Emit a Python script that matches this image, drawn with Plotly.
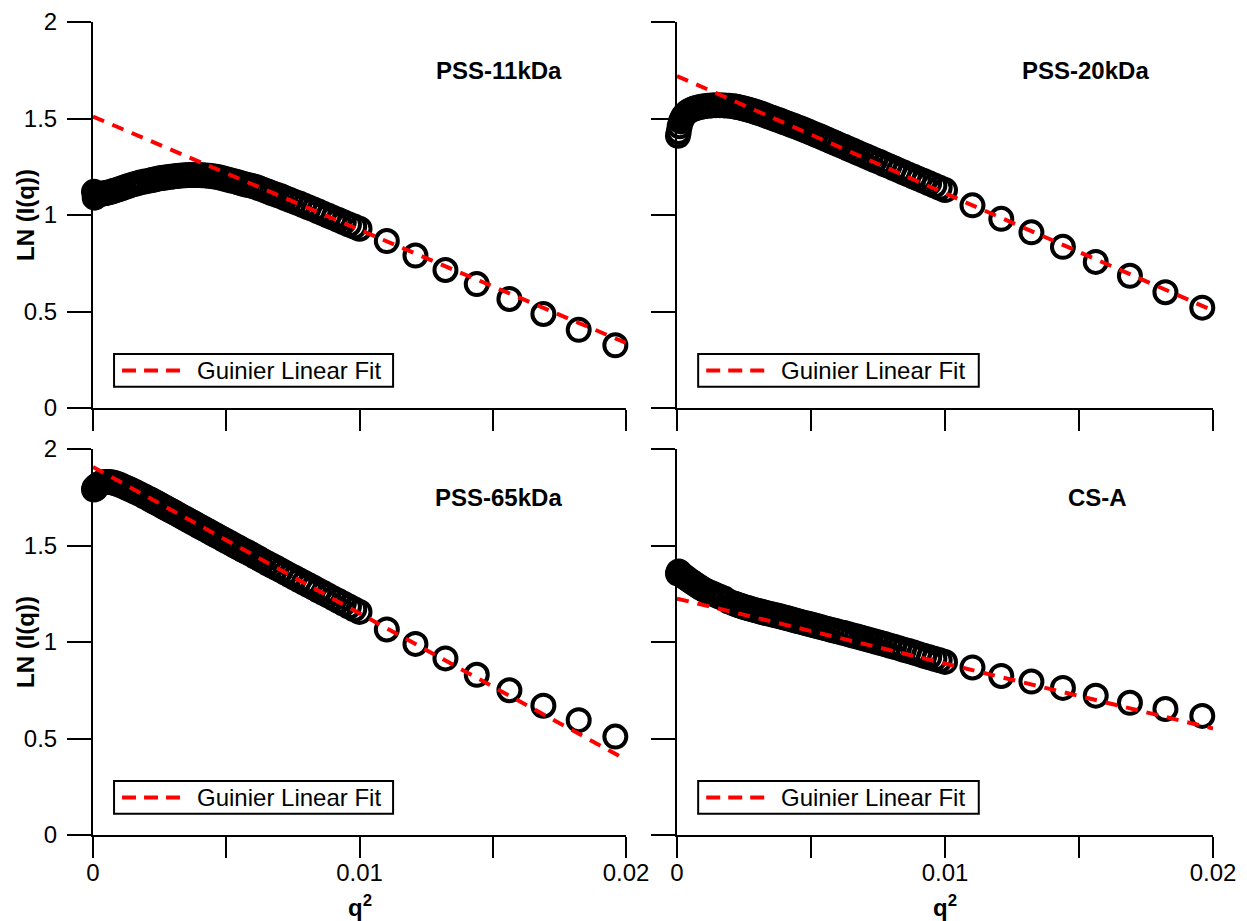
import plotly.graph_objects as go

# ---------------- data ----------------
q2 = [0.000036, 0.000064, 0.000100, 0.000144, 0.000196, 0.000256, 0.000324, 0.000400, 0.000484, 0.000576,
      0.000676, 0.000784, 0.000900, 0.001024, 0.001156, 0.001296, 0.001444, 0.001600, 0.001764, 0.001936,
      0.002116, 0.002209, 0.002304, 0.002401, 0.002500, 0.002601, 0.002704, 0.002809, 0.002916, 0.003025,
      0.003136, 0.003249, 0.003364, 0.003481, 0.003600, 0.003721, 0.003844, 0.003969, 0.004096, 0.004225,
      0.004356, 0.004489, 0.004624, 0.004761, 0.004900, 0.005041, 0.005184, 0.005329, 0.005476, 0.005625,
      0.005776, 0.005929, 0.006084, 0.006241, 0.006400, 0.006561, 0.006724, 0.006889, 0.007056, 0.007225,
      0.007396, 0.007569, 0.007744, 0.007921, 0.008100, 0.008281, 0.008464, 0.008649, 0.008836, 0.009025,
      0.009216, 0.009409, 0.009604, 0.009801, 0.010000,
      0.011025, 0.012100, 0.013225, 0.014400, 0.015625, 0.016900, 0.018225, 0.019600]

ln_pss11 = [1.120, 1.090, 1.100, 1.110, 1.105, 1.110, 1.110, 1.112, 1.114, 1.117,
            1.120, 1.125, 1.130, 1.136, 1.142, 1.149, 1.156, 1.162, 1.168, 1.173,
            1.178, 1.181, 1.184, 1.187, 1.190, 1.192, 1.194, 1.196, 1.198, 1.200,
            1.202, 1.204, 1.205, 1.206, 1.207, 1.207, 1.207, 1.207, 1.206, 1.205,
            1.203, 1.201, 1.198, 1.194, 1.189, 1.184, 1.179, 1.174, 1.168, 1.162,
            1.157, 1.152, 1.146, 1.138, 1.130, 1.122, 1.113, 1.105, 1.097, 1.087,
            1.078, 1.068, 1.059, 1.049, 1.039, 1.029, 1.018, 1.007, 0.996, 0.985,
            0.974, 0.962, 0.951, 0.940, 0.929,
            0.865, 0.790, 0.715, 0.642, 0.565, 0.487, 0.405, 0.325]

ln_pss20 = [1.410, 1.430, 1.460, 1.485, 1.500, 1.515, 1.525, 1.535, 1.542, 1.548,
            1.553, 1.557, 1.561, 1.564, 1.566, 1.568, 1.569, 1.569, 1.568, 1.566,
            1.563, 1.561, 1.558, 1.555, 1.552, 1.548, 1.544, 1.540, 1.535, 1.530,
            1.525, 1.519, 1.513, 1.507, 1.501, 1.495, 1.489, 1.482, 1.476, 1.469,
            1.462, 1.455, 1.448, 1.440, 1.432, 1.424, 1.416, 1.408, 1.399, 1.390,
            1.381, 1.372, 1.362, 1.353, 1.343, 1.334, 1.324, 1.314, 1.304, 1.294,
            1.284, 1.274, 1.263, 1.253, 1.242, 1.231, 1.220, 1.209, 1.198, 1.187,
            1.176, 1.164, 1.153, 1.141, 1.129,
            1.050, 0.980, 0.910, 0.835, 0.757, 0.685, 0.600, 0.520]

ln_pss65 = [1.790, 1.800, 1.795, 1.810, 1.815, 1.820, 1.825, 1.828, 1.829, 1.829,
            1.828, 1.825, 1.820, 1.813, 1.805, 1.796, 1.787, 1.777, 1.766, 1.754,
            1.741, 1.734, 1.727, 1.720, 1.713, 1.705, 1.697, 1.689, 1.681, 1.673,
            1.665, 1.656, 1.647, 1.638, 1.629, 1.620, 1.611, 1.601, 1.592, 1.582,
            1.572, 1.562, 1.552, 1.542, 1.531, 1.521, 1.510, 1.499, 1.488, 1.477,
            1.466, 1.455, 1.443, 1.431, 1.419, 1.407, 1.395, 1.383, 1.371, 1.358,
            1.345, 1.333, 1.320, 1.307, 1.294, 1.281, 1.267, 1.254, 1.240, 1.226,
            1.212, 1.198, 1.184, 1.170, 1.156,
            1.065, 0.990, 0.915, 0.830, 0.750, 0.670, 0.595, 0.510]

ln_csa = [1.355, 1.365, 1.360, 1.352, 1.347, 1.341, 1.334, 1.326, 1.318, 1.309,
          1.300, 1.290, 1.280, 1.270, 1.261, 1.252, 1.243, 1.234, 1.225, 1.210,
          1.200, 1.195, 1.190, 1.186, 1.181, 1.177, 1.173, 1.169, 1.165, 1.161,
          1.157, 1.153, 1.149, 1.145, 1.141, 1.137, 1.133, 1.128, 1.124, 1.119,
          1.114, 1.109, 1.104, 1.099, 1.094, 1.089, 1.084, 1.079, 1.073, 1.068,
          1.062, 1.057, 1.051, 1.046, 1.040, 1.034, 1.028, 1.022, 1.015, 1.009,
          1.002, 0.996, 0.989, 0.982, 0.975, 0.968, 0.960, 0.953, 0.945, 0.937,
          0.929, 0.921, 0.913, 0.905, 0.897,
          0.868, 0.824, 0.795, 0.762, 0.722, 0.685, 0.653, 0.617]

fit_x = [0.0, 0.02]
fit_pss11 = [1.510, 0.337]
fit_pss20 = [1.720, 0.505]
fit_pss65 = [1.907, 0.390]
fit_csa = [1.225, 0.552]

panel_names = ["PSS-11kDa", "PSS-20kDa", "PSS-65kDa", "CS-A"]
legend_label = "Guinier Linear Fit"
x_tick_vals = [0, 0.01, 0.02]
x_tick_text = ["0", "0.01", "0.02"]
x_minor_vals = [0.005, 0.015]
y_tick_vals = [0, 0.5, 1, 1.5, 2]
y_tick_text = ["0", "0.5", "1", "1.5", "2"]

for arr in (ln_pss11, ln_pss20, ln_pss65, ln_csa):
    if len(arr) != len(q2):
        raise ValueError("length mismatch %d vs %d" % (len(arr), len(q2)))

# ---------------- figure ----------------
W, H = 1247, 921
FONT = "Liberation Sans, Arial, Helvetica, sans-serif"
fig = go.Figure()

series = [ln_pss11, ln_pss20, ln_pss65, ln_csa]
fits = [fit_pss11, fit_pss20, fit_pss65, fit_csa]
axis_ids = [("x", "y"), ("x2", "y2"), ("x3", "y3"), ("x4", "y4")]

for (xa, ya), ys, fy in zip(axis_ids, series, fits):
    fig.add_trace(go.Scatter(
        x=q2, y=ys, mode="markers", xaxis=xa, yaxis=ya, showlegend=False,
        cliponaxis=False,
        marker=dict(symbol="circle-open", size=22, color="black",
                    line=dict(width=4, color="black"))))
    fig.add_trace(go.Scatter(
        x=fit_x, y=fy, mode="lines", xaxis=xa, yaxis=ya, showlegend=False,
        name=legend_label, cliponaxis=False,
        line=dict(color="#ff0000", width=4, dash="12px,9px")))

xl = [93 / W, 626 / W]
xr = [677 / W, 1213 / W]
yt = [1 - 408 / H, 1 - 22 / H]
yb = [1 - 835 / H, 1 - 449 / H]

def xax(domain, anchor, labels):
    return dict(domain=domain, anchor=anchor, range=[0, 0.02], showline=True,
                linecolor="black", linewidth=2, ticks="outside", ticklen=21,
                tickwidth=2, tickcolor="black", tickmode="array",
                tickvals=x_tick_vals, ticktext=x_tick_text, showticklabels=labels,
                minor=dict(tickmode="array", tickvals=x_minor_vals, ticks="outside",
                           ticklen=21, tickwidth=2, tickcolor="black", showgrid=False),
                showgrid=False, zeroline=False, automargin=False,
                ticklabelstandoff=-6,
                tickfont=dict(family=FONT, size=24, color="black"))

def yax(domain, anchor, labels):
    return dict(domain=domain, anchor=anchor, range=[0, 2], showline=True,
                linecolor="black", linewidth=2, ticks="outside", ticklen=24,
                tickwidth=2, tickcolor="black", tickmode="array",
                tickvals=y_tick_vals, ticktext=y_tick_text, showticklabels=labels,
                showgrid=False, zeroline=False, automargin=False,
                ticklabelstandoff=5,
                tickfont=dict(family=FONT, size=24, color="black"))

annotations = []
shapes = []
label_pos = [(0.01523, 1.75), (0.01523, 1.75), (0.01523, 1.75), (0.0157, 1.75)]
for (xa, ya), name, (lx, ly) in zip(axis_ids, panel_names, label_pos):
    annotations.append(dict(text="<b>%s</b>" % name, x=lx, y=ly, xref=xa, yref=ya,
                            showarrow=False, xanchor="center", yanchor="middle",
                            font=dict(family=FONT, size=24, color="black")))
    # legend box
    shapes.append(dict(type="rect", xref=xa, yref=ya, x0=0.00079, x1=0.01126,
                       y0=0.11, y1=0.28, line=dict(color="black", width=2),
                       fillcolor="rgba(0,0,0,0)", layer="above"))
    shapes.append(dict(type="line", xref=xa, yref=ya, x0=0.00109, x1=0.00336,
                       y0=0.194, y1=0.194, line=dict(color="#ff0000", width=4, dash="14px,8px")))
    annotations.append(dict(text=legend_label, x=0.00381, y=0.194, xref=xa, yref=ya,
                            showarrow=False, xanchor="left", yanchor="middle",
                            font=dict(family=FONT, size=24, color="black")))

# axis titles
for yc in [(yt[0] + yt[1]) / 2, (yb[0] + yb[1]) / 2]:
    annotations.append(dict(text="<b>LN (I(q))</b>", x=25 / W, y=yc, xref="paper", yref="paper",
                            showarrow=False, textangle=-90, xanchor="center", yanchor="middle",
                            font=dict(family=FONT, size=24, color="black")))
for xa in ["x3", "x4"]:
    annotations.append(dict(text="<b>q<sup>2</sup></b>", x=0.01, y=1 - 906 / H, xref=xa, yref="paper",
                            showarrow=False, xanchor="center", yanchor="middle",
                            font=dict(family=FONT, size=24, color="black")))

fig.update_layout(
    width=W, height=H, autosize=False,
    margin=dict(l=0, r=0, t=0, b=0, autoexpand=False),
    paper_bgcolor="white", plot_bgcolor="white",
    font=dict(family=FONT, size=24, color="black"),
    showlegend=False,
    xaxis=xax(xl, "y", False), yaxis=yax(yt, "x", True),
    xaxis2=xax(xr, "y2", False), yaxis2=yax(yt, "x2", False),
    xaxis3=xax(xl, "y3", True), yaxis3=yax(yb, "x3", True),
    xaxis4=xax(xr, "y4", True), yaxis4=yax(yb, "x4", False),
    annotations=annotations, shapes=shapes,
)

fig.write_html("out.html")
